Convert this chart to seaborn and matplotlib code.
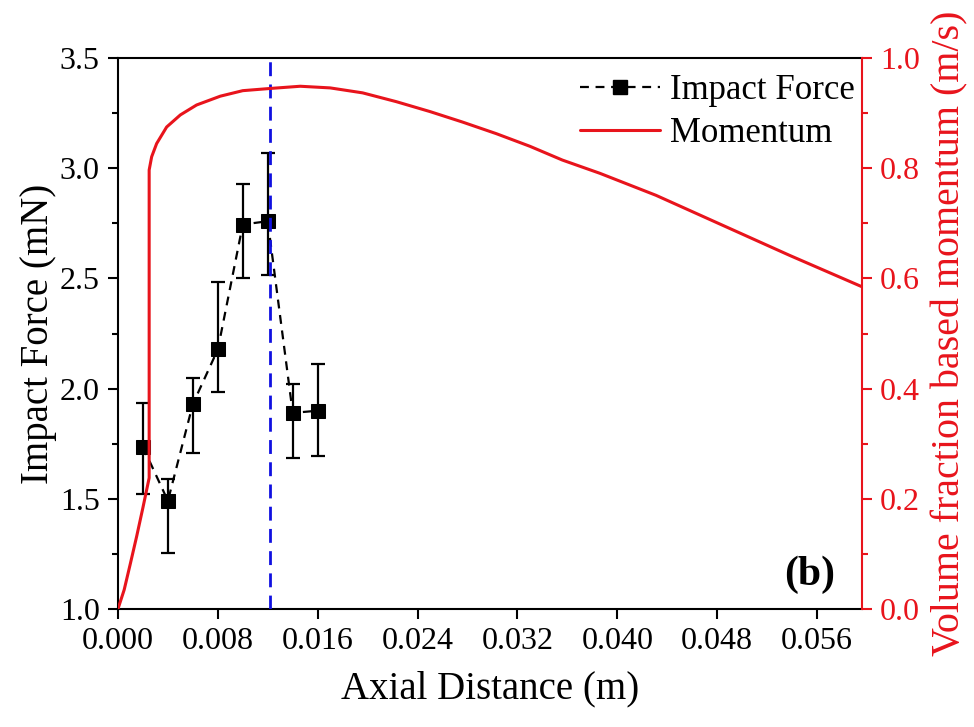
import numpy as np
import pandas as pd
import matplotlib
matplotlib.use("Agg")
import matplotlib.pyplot as plt
import seaborn as sns
from matplotlib.lines import Line2D
from matplotlib.ticker import MultipleLocator

# ---- data ----
force_x = [0.002, 0.004, 0.006, 0.008, 0.010, 0.012, 0.014, 0.016]
force_y = [1.736, 1.491, 1.930, 2.178, 2.745, 2.760, 1.890, 1.900]
force_lo = [1.522, 1.253, 1.710, 1.985, 2.500, 2.515, 1.686, 1.696]
force_hi = [1.936, 1.590, 2.047, 2.484, 2.930, 3.068, 2.020, 2.113]

mom_x = [0.0, 0.0005, 0.0010, 0.0015, 0.0020, 0.0025, 0.0025, 0.0027, 0.0031,
         0.0039, 0.0050, 0.0063, 0.0082, 0.0100, 0.0122, 0.0146, 0.0170, 0.0196,
         0.0223, 0.0250, 0.0276, 0.0303, 0.0330, 0.0356, 0.0386, 0.0431, 0.0484,
         0.0538, 0.0596]
mom_y = [0.0, 0.035, 0.083, 0.132, 0.184, 0.238, 0.797, 0.821, 0.845,
         0.875, 0.897, 0.915, 0.931, 0.941, 0.945, 0.949, 0.946, 0.937,
         0.921, 0.903, 0.884, 0.863, 0.840, 0.815, 0.791, 0.751, 0.697,
         0.642, 0.585]

peak_x = 0.0122

x_ticks = [0.000, 0.008, 0.016, 0.024, 0.032, 0.040, 0.048, 0.056]
y_ticks = [1.0, 1.5, 2.0, 2.5, 3.0, 3.5]
y2_ticks = [0.0, 0.2, 0.4, 0.6, 0.8, 1.0]

RED = "#e8141c"

# ---- style ----
sns.set_theme(style="ticks")
plt.rcParams["font.family"] = ["Liberation Serif", "DejaVu Serif"]
plt.rcParams["text.color"] = "black"
plt.rcParams["axes.labelcolor"] = "black"
plt.rcParams["xtick.color"] = "black"
plt.rcParams["ytick.color"] = "black"
plt.rcParams["axes.edgecolor"] = "black"

fig = plt.figure(figsize=(9.74, 7.27), dpi=100)
ax = fig.add_axes([0.1211, 0.1623, 0.885 - 0.1211, 0.920 - 0.1623])

df_force = pd.DataFrame({"x": force_x, "y": force_y})
df_mom = pd.DataFrame({"x": mom_x, "y": mom_y})

yerr = np.array([np.array(force_y) - np.array(force_lo),
                 np.array(force_hi) - np.array(force_y)])
ax.errorbar(force_x, force_y, yerr=yerr, fmt="none", ecolor="black",
            elinewidth=1.6, capsize=5, capthick=1.6, zorder=3)
sns.lineplot(data=df_force, x="x", y="y", ax=ax, color="black",
             linestyle=(0, (4, 3)), linewidth=1.6, marker="s", markersize=10,
             markeredgecolor="black", markerfacecolor="black", zorder=4,
             legend=False)
ax.axvline(peak_x, color="#1010e0", linestyle=(0, (5, 3)), linewidth=2, zorder=5)

ax.set_xlim(0, 0.0596)
ax.set_ylim(1.0, 3.5)
ax.set_xticks(x_ticks)
ax.set_xticklabels([f"{v:.3f}" for v in x_ticks])
ax.set_yticks(y_ticks)
ax.set_yticklabels([f"{v:.1f}" for v in y_ticks])
ax.yaxis.set_minor_locator(MultipleLocator(0.25))
ax.tick_params(axis="both", which="major", labelsize=23, length=7, width=1.5,
               direction="out", colors="black", pad=6)
ax.tick_params(axis="y", which="minor", length=4, width=1.5, direction="out",
               colors="black")
ax.tick_params(top=False)
ax.set_xlabel("Axial Distance (m)", fontsize=28, labelpad=10, color="black")
ax.set_ylabel("Impact Force (mN)", fontsize=28, labelpad=2, color="black")
for s in ["left", "bottom", "top"]:
    ax.spines[s].set_color("black")
    ax.spines[s].set_linewidth(1.5)
ax.spines["right"].set_visible(False)

ax2 = ax.twinx()
sns.lineplot(data=df_mom, x="x", y="y", ax=ax2, color=RED,
             linewidth=2.2, sort=False, estimator=None, legend=False)
ax2.set_ylim(0.0, 1.0)
ax2.set_xlim(0, 0.0596)
ax2.set_yticks(y2_ticks)
ax2.set_yticklabels([f"{v:.1f}" for v in y2_ticks])
ax2.yaxis.set_minor_locator(MultipleLocator(0.1))
ax2.tick_params(axis="y", which="major", labelsize=23, length=7, width=1.5,
                direction="out", colors=RED, pad=6)
ax2.tick_params(axis="y", which="minor", length=4, width=1.5,
                direction="out", colors=RED)
ax2.set_ylabel("Volume fraction based momentum (m/s)", fontsize=28.8,
               color=RED, labelpad=8)
ax2.spines["right"].set_color(RED)
ax2.spines["right"].set_linewidth(1.5)
for s in ["left", "top", "bottom"]:
    ax2.spines[s].set_visible(False)

handles = [
    Line2D([], [], color="black", linestyle=(0, (4, 3)), linewidth=1.6,
           marker="s", markersize=10),
    Line2D([], [], color=RED, linewidth=2.2),
]
ax2.legend(handles, ["Impact Force", "Momentum"], loc="upper right",
           bbox_to_anchor=(1.012, 1.0),
           frameon=False, fontsize=25, handlelength=2.3, handletextpad=0.3,
           borderaxespad=0.05, labelspacing=0.3)

ax.text(0.930, 0.062, "(b)", transform=ax.transAxes, fontsize=30,
        fontweight="bold", ha="center", va="center", color="black")

fig.savefig("out.png", dpi=100)
